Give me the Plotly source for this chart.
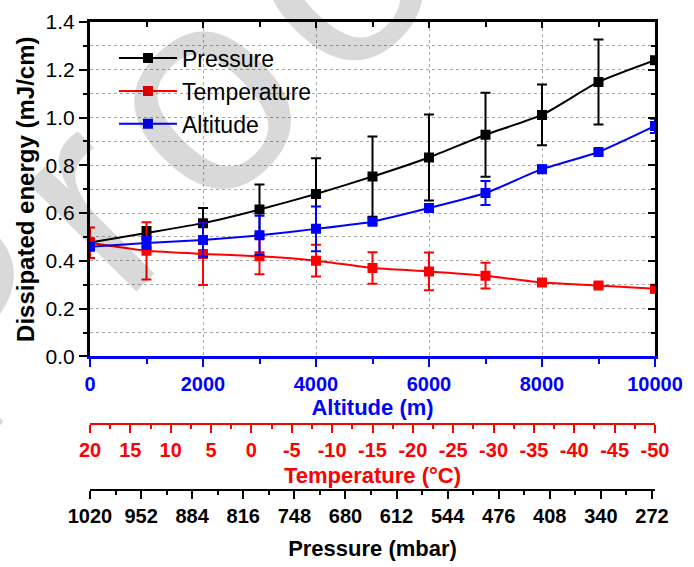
import plotly.graph_objects as go

# ---------------- data ----------------
altitude_m = [0, 1000, 2000, 3000, 4000, 5000, 6000, 7000, 8000, 9000, 10000]

pressure_E = [0.477, 0.517, 0.558, 0.615, 0.680, 0.753, 0.833, 0.928, 1.011, 1.149, 1.240]
pressure_err = [0.0, 0.025, 0.063, 0.105, 0.150, 0.168, 0.180, 0.176, 0.127, 0.178, 0.0]

temperature_E = [0.476, 0.442, 0.429, 0.419, 0.401, 0.370, 0.356, 0.338, 0.309, 0.297, 0.283]
temperature_err = [0.064, 0.120, 0.130, 0.075, 0.066, 0.066, 0.079, 0.054, 0.008, 0.008, 0.015]

altitude_E = [0.459, 0.475, 0.487, 0.507, 0.534, 0.564, 0.621, 0.684, 0.784, 0.856, 0.965]
altitude_err = [0.015, 0.025, 0.070, 0.082, 0.094, 0.010, 0.008, 0.050, 0.015, 0.010, 0.030]

temp_ticks = [20, 15, 10, 5, 0, -5, -10, -15, -20, -25, -30, -35, -40, -45, -50]
temp_labels = ["20", "15", "10", "5", "0", "-5", "-10", "-15", "-20", "-25", "-30", "-35", "-40", "-45", "-50"]
pres_ticks = [1020, 952, 884, 816, 748, 680, 612, 544, 476, 408, 340, 272]
pres_labels = [str(p) for p in pres_ticks]

watermark_letters = ["P", "r", "o", "o"]

# ---------------- style ----------------
W, H = 694, 567
ML, MR, MT, MB = 90, 39, 18, 10
PW, PH = W - ML - MR, H - MT - MB
PLOT_BOTTOM_PX = 362

def px2paper(px, py):
    return (px - ML) / PW, (H - MB - py) / PH

NARROW = "Liberation Sans Narrow, Arial Narrow, Liberation Sans, Arial, sans-serif"
SANS = "Liberation Sans, Arial, sans-serif"
BLUE, RED, BLACK = "#0000ff", "#ff0000", "#000000"
GRID = "#a8a8a8"

fig = go.Figure()

def add_series(y, err, color, name):
    fig.add_trace(go.Scatter(
        x=altitude_m, y=y, name=name, mode="lines+markers",
        line=dict(color=color, width=2, shape="spline", smoothing=0.5),
        marker=dict(symbol="square", size=10, color=color),
        error_y=dict(type="data", array=err, visible=True, color=color, thickness=2, width=5),
        xaxis="x", yaxis="y",
    ))

add_series(pressure_E, pressure_err, BLACK, "Pressure")
add_series(temperature_E, temperature_err, RED, "Temperature")
add_series(altitude_E, altitude_err, BLUE, "Altitude")

# dummy traces so that the extra axes exist
fig.add_trace(go.Scatter(x=[temp_ticks[0], temp_ticks[-1]], y=[0.7, 0.7], mode="markers",
                         marker=dict(opacity=0), showlegend=False, hoverinfo="skip",
                         xaxis="x2", yaxis="y"))
fig.add_trace(go.Scatter(x=[pres_ticks[0], pres_ticks[-1]], y=[0.7, 0.7], mode="markers",
                         marker=dict(opacity=0), showlegend=False, hoverinfo="skip",
                         xaxis="x3", yaxis="y"))
fig.add_trace(go.Scatter(x=[0, 10000], y=[0.7, 0.7], mode="markers",
                         marker=dict(opacity=0), showlegend=False, hoverinfo="skip",
                         xaxis="x4", yaxis="y2"))

y_dom0 = (H - MB - PLOT_BOTTOM_PX) / PH
temp_pos = (H - MB - 431) / PH
pres_pos = (H - MB - 499) / PH

TICKFONT = 20

fig.update_layout(
    width=W, height=H,
    margin=dict(l=ML, r=MR, t=MT, b=MB),
    paper_bgcolor="white", plot_bgcolor="white",
    showlegend=True,
    legend=dict(x=px2paper(114, 0)[0], y=px2paper(0, 33)[1], xanchor="left", yanchor="top",
                bgcolor="rgba(0,0,0,0)", borderwidth=0, itemwidth=58,
                font=dict(family=SANS, size=23, color=BLACK), tracegroupgap=0),
    xaxis=dict(
        domain=[0, 1], anchor="y", range=[0, 10000], side="bottom",
        showline=True, linecolor=BLUE, linewidth=3, zeroline=False,
        ticks="outside", ticklen=8, tickwidth=2, tickcolor=BLUE, tick0=0, dtick=2000, tickformat="d",
        tickfont=dict(family=NARROW, size=TICKFONT, color=BLUE, weight="bold"),
        showgrid=True, gridcolor=GRID, griddash="dot", gridwidth=1,
        minor=dict(ticks="outside", ticklen=5, tickwidth=2, tickcolor=BLUE, dtick=1000, showgrid=False),
        title=dict(text="Altitude (m)", font=dict(family=NARROW, size=22, color=BLUE, weight="bold"), standoff=2),
    ),
    yaxis=dict(
        domain=[y_dom0, 1], anchor="x", range=[0, 1.4],
        showline=True, linecolor=BLACK, linewidth=3, zeroline=False,
        ticks="outside", ticklen=8, tickwidth=2, tickcolor=BLACK, tick0=0, dtick=0.2, tickformat=".1f",
        tickfont=dict(family=SANS, size=21, color=BLACK),
        showgrid=True, gridcolor=GRID, griddash="dot", gridwidth=1,
        minor=dict(ticks="outside", ticklen=4, tickwidth=2, tickcolor=BLACK, dtick=0.1,
                   showgrid=True, gridcolor=GRID, griddash="dot", gridwidth=1),
        title=dict(text="Dissipated energy (mJ/cm)", font=dict(family=SANS, size=24, color=BLACK, weight="bold"), standoff=5),
    ),
    yaxis2=dict(
        overlaying="y", side="right", anchor="x", range=[0, 1.4],
        showline=True, linecolor=BLACK, linewidth=3, zeroline=False, showgrid=False,
        ticks="inside", ticklen=7, tickwidth=2, tickcolor=BLACK, tick0=0, dtick=0.2,
        minor=dict(ticks="inside", ticklen=4, tickwidth=2, tickcolor=BLACK, dtick=0.1),
        showticklabels=False,
    ),
    xaxis4=dict(
        overlaying="x", side="top", anchor="y", range=[0, 10000],
        showline=True, linecolor=BLACK, linewidth=3, zeroline=False, showgrid=False,
        ticks="inside", ticklen=6, tickwidth=2, tickcolor=BLACK, tick0=0, dtick=2000,
        minor=dict(ticks="inside", ticklen=5, tickwidth=2, tickcolor=BLACK, dtick=1000),
        showticklabels=False,
    ),
    xaxis2=dict(
        overlaying="x", anchor="free", position=temp_pos, side="bottom",
        range=[temp_ticks[0], temp_ticks[-1]],
        showline=True, linecolor=RED, linewidth=2, zeroline=False, showgrid=False,
        tickmode="array", tickvals=temp_ticks, ticktext=temp_labels,
        ticks="outside", ticklen=8, tickwidth=2, tickcolor=RED,
        tickfont=dict(family=NARROW, size=TICKFONT, color=RED, weight="bold"),
        minor=dict(ticks="outside", ticklen=4, tickwidth=2, tickcolor=RED,
                   tickvals=[t - 2.5 for t in temp_ticks[:-1]]),
        title=dict(text="Temperature (°C)", font=dict(family=NARROW, size=22, color=RED, weight="bold"), standoff=7),
    ),
    xaxis3=dict(
        overlaying="x", anchor="free", position=pres_pos, side="bottom",
        range=[1020, 268],
        showline=True, linecolor=BLACK, linewidth=2, zeroline=False, showgrid=False,
        tickmode="array", tickvals=pres_ticks, ticktext=pres_labels,
        ticks="outside", ticklen=8, tickwidth=2, tickcolor=BLACK,
        tickfont=dict(family=NARROW, size=TICKFONT, color=BLACK, weight="bold"),
        minor=dict(ticks="outside", ticklen=4, tickwidth=2, tickcolor=BLACK,
                   tickvals=[p - 34 for p in pres_ticks[:-1]]),
        title=dict(text="Pressure (mbar)", font=dict(family=NARROW, size=22, color=BLACK, weight="bold"), standoff=14),
    ),
)

# watermark letters placed along a 45-degree line
o_center = (213, 110)
offsets = [-326, -155, 0, 187]
ux, uy = 0.7071, -0.7071
for letter, d in zip(watermark_letters, offsets):
    cx = o_center[0] + d * ux - 18
    cy = o_center[1] + d * uy - 18
    xp, yp = px2paper(cx, cy)
    fig.add_annotation(text=letter, x=xp, y=yp, xref="paper", yref="paper",
                       xanchor="center", yanchor="middle", showarrow=False,
                       textangle=-45, font=dict(family=SANS, size=290, color="rgba(0,0,0,0.15)"))

fig.write_html("out.html")
